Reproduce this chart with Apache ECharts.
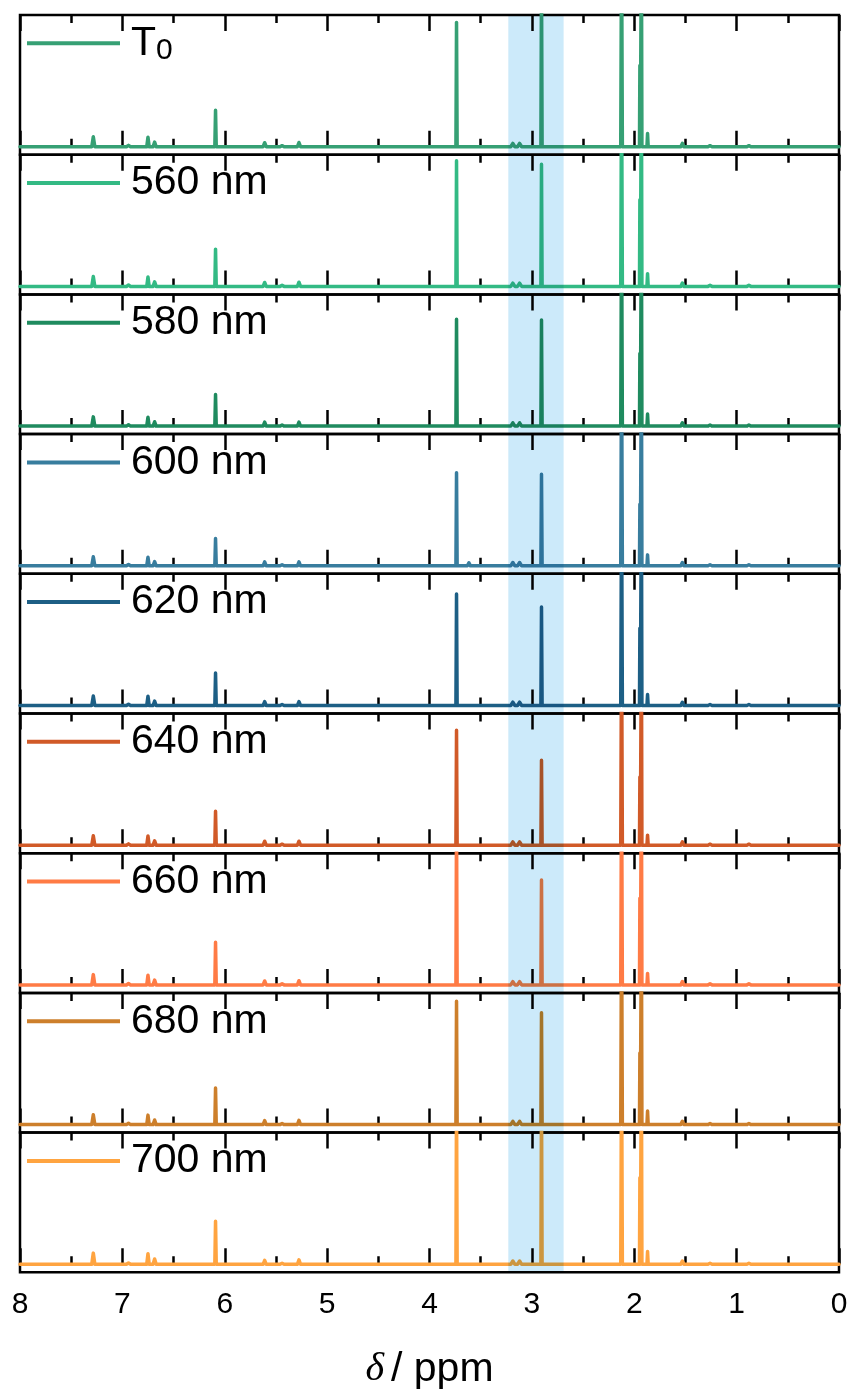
<!DOCTYPE html>
<html><head><meta charset="utf-8">
<script src="https://cdn.jsdelivr.net/npm/echarts@6/dist/echarts.min.js"></script>
<style>html,body{margin:0;padding:0;background:#fff}#c{width:852px;height:1392px}</style>
</head><body><div id="c"></div>
<script>
// ---------- data ----------
const panelNames = ['T0', '560 nm', '580 nm', '600 nm', '620 nm', '640 nm', '660 nm', '680 nm', '700 nm'];
const panelColors = ['#36a074', '#33ba84', '#1f8b5f', '#387d9e', '#1d5f85', '#d15a28', '#ff7b45', '#cd7f2b', '#ffa440'];
// chemical shifts (ppm) of the resolved peaks, descending
const peakShifts =     [7.284, 6.94, 6.75, 6.685, 6.09, 5.61, 5.44, 5.275, 3.736, 3.615, 3.186, 3.12, 2.906, 2.79, 2.124, 1.945, 1.930, 1.870, 1.53, 1.26, 0.88];
const peakHalfWidths = [0.015, 0.02, 0.012, 0.015, 0.007, 0.015, 0.02, 0.015, 0.006, 0.015, 0.02, 0.02, 0.006, 0.015, 0.008, 0.004, 0.005, 0.006, 0.015, 0.02, 0.02];
// peak intensities per spectrum (same order as peakShifts)
const heightsT0  = [0.075, 0.01, 0.072, 0.035, 0.277, 0.03, 0.008, 0.032, 0.944, 0.012, 0.025, 0.025, 1.30,  0.01, 1.6, 0.617, 1.6, 0.100, 0.025, 0.008, 0.008];
const heights560 = [0.075, 0.01, 0.072, 0.035, 0.283, 0.03, 0.008, 0.032, 0.954, 0.012, 0.025, 0.025, 0.927, 0.01, 1.6, 0.657, 1.6, 0.097, 0.025, 0.008, 0.008];
const heights580 = [0.070, 0.01, 0.068, 0.033, 0.240, 0.03, 0.008, 0.030, 0.812, 0.012, 0.025, 0.025, 0.805, 0.01, 1.6, 0.552, 1.6, 0.091, 0.025, 0.008, 0.008];
const heights600 = [0.068, 0.01, 0.065, 0.032, 0.207, 0.03, 0.008, 0.030, 0.707, 0.022, 0.025, 0.025, 0.695, 0.01, 1.6, 0.467, 1.6, 0.083, 0.025, 0.008, 0.008];
const heights620 = [0.072, 0.01, 0.070, 0.033, 0.247, 0.03, 0.008, 0.030, 0.847, 0.012, 0.025, 0.025, 0.747, 0.01, 1.6, 0.587, 1.6, 0.083, 0.025, 0.008, 0.008];
const heights640 = [0.072, 0.01, 0.070, 0.033, 0.257, 0.03, 0.008, 0.030, 0.873, 0.012, 0.025, 0.025, 0.645, 0.01, 1.6, 0.517, 1.6, 0.076, 0.025, 0.008, 0.008];
const heights660 = [0.078, 0.01, 0.074, 0.036, 0.323, 0.03, 0.008, 0.032, 1.30,  0.012, 0.025, 0.025, 0.797, 0.01, 1.6, 0.657, 1.6, 0.087, 0.025, 0.008, 0.008];
const heights680 = [0.075, 0.01, 0.072, 0.035, 0.277, 0.03, 0.008, 0.032, 0.937, 0.012, 0.025, 0.025, 0.850, 0.01, 1.6, 0.544, 1.6, 0.103, 0.025, 0.008, 0.008];
const heights700 = [0.085, 0.01, 0.080, 0.040, 0.327, 0.03, 0.008, 0.034, 1.30,  0.012, 0.025, 0.025, 1.30,  0.01, 1.6, 0.657, 1.6, 0.097, 0.025, 0.008, 0.008];
const panelHeights = [heightsT0, heights560, heights580, heights600, heights620, heights640, heights660, heights680, heights700];
const xRange = [0, 8];
const yRange = [-0.0607, 1];
const bandRange = [3.23, 2.69];

// ---------- layout ----------
const panelTop0 = 15, panelH = 139.7;
const FONT = 'Liberation Sans, Arial, sans-serif';

function buildTrace(heights) {
  const pts = [[xRange[1], 0]];
  peakShifts.forEach((p, i) => {
    const w = peakHalfWidths[i];
    pts.push([p + w, 0], [p, heights[i]], [p - w, 0]);
  });
  pts.push([xRange[0], 0]);
  return pts;
}

const chart = echarts.init(document.getElementById('c'), null, {renderer: 'canvas'});
const grids = [], xAxes = [], yAxes = [], series = [], legends = [];
const last = panelNames.length - 1;
panelNames.forEach((name, i) => {
  const top = panelTop0 + i * panelH;
  grids.push({left: 20, right: 13, top: top, height: panelH, show: true,
    borderColor: '#000', borderWidth: 2.5, backgroundColor: 'transparent'});
  const tickCommon = {
    gridIndex: i, type: 'value', min: xRange[0], max: xRange[1], interval: 1, inverse: true,
    axisLine: {show: false},
    axisTick: {show: true, inside: true, length: 16, lineStyle: {color: '#000', width: 2.5}},
    minorTick: {show: true, splitNumber: 2, length: 8, lineStyle: {color: '#000', width: 2.5}},
    splitLine: {show: false}, minorSplitLine: {show: false}
  };
  xAxes.push(Object.assign({}, tickCommon, {
    position: 'bottom',
    axisLabel: {show: i === last, fontSize: 30, lineHeight: 30, margin: 17, color: '#000', fontFamily: FONT},
    name: i === last ? '{i|δ}{s| }{n|/ ppm}' : '',
    nameLocation: 'middle', nameGap: 75,
    nameTextStyle: {rich: {
      i: {fontFamily: 'Liberation Serif, Times New Roman, serif', fontStyle: 'italic', fontSize: 40, lineHeight: 44, color: '#000'},
      s: {fontFamily: FONT, fontSize: 12, lineHeight: 44, width: 7},
      n: {fontFamily: FONT, fontSize: 41, lineHeight: 44, color: '#000'}
    }}
  }));
  xAxes.push(Object.assign({}, tickCommon, {position: 'top', axisLabel: {show: false}}));
  yAxes.push({gridIndex: i, type: 'value', min: yRange[0], max: yRange[1], show: false});
  series.push({
    type: 'line', name: name, xAxisIndex: 2 * i, yAxisIndex: i,
    data: buildTrace(panelHeights[i]), symbol: 'none', clip: true, z: 3,
    lineStyle: {color: panelColors[i], width: 3.5, join: 'round', cap: 'round'},
    itemStyle: {color: panelColors[i]}
  });
  legends.push({
    data: [{name: name, icon: 'rect'}], left: 27, top: top + 28.3 - 22, padding: 0,
    itemWidth: 93, itemHeight: 4, selectedMode: false,
    itemStyle: {color: panelColors[i], borderWidth: 0},
    formatter: n => n === 'T0' ? 'T{sub|0}' : n,
    textStyle: {fontSize: 41, lineHeight: 44, color: '#000', fontFamily: FONT, padding: [0, 0, 0, 6],
      rich: {sub: {fontSize: 30, lineHeight: 14, verticalAlign: 'bottom', color: '#000', fontFamily: FONT}}}
  });
});

chart.setOption({
  animation: false,
  backgroundColor: '#fff',
  grid: grids, xAxis: xAxes, yAxis: yAxes, series: series, legend: legends
});

const x1 = chart.convertToPixel({xAxisIndex: 0}, bandRange[0]);
const x2 = chart.convertToPixel({xAxisIndex: 0}, bandRange[1]);
const y1 = chart.convertToPixel({yAxisIndex: 0}, yRange[1]);
const y2 = chart.convertToPixel({yAxisIndex: last}, yRange[0]);
chart.setOption({graphic: [{
  type: 'rect', z: 100, silent: true,
  shape: {x: Math.min(x1, x2), y: Math.min(y1, y2), width: Math.abs(x2 - x1), height: Math.abs(y2 - y1)},
  style: {fill: '#cceafa', blend: 'multiply'}
}]});
</script></body></html>
